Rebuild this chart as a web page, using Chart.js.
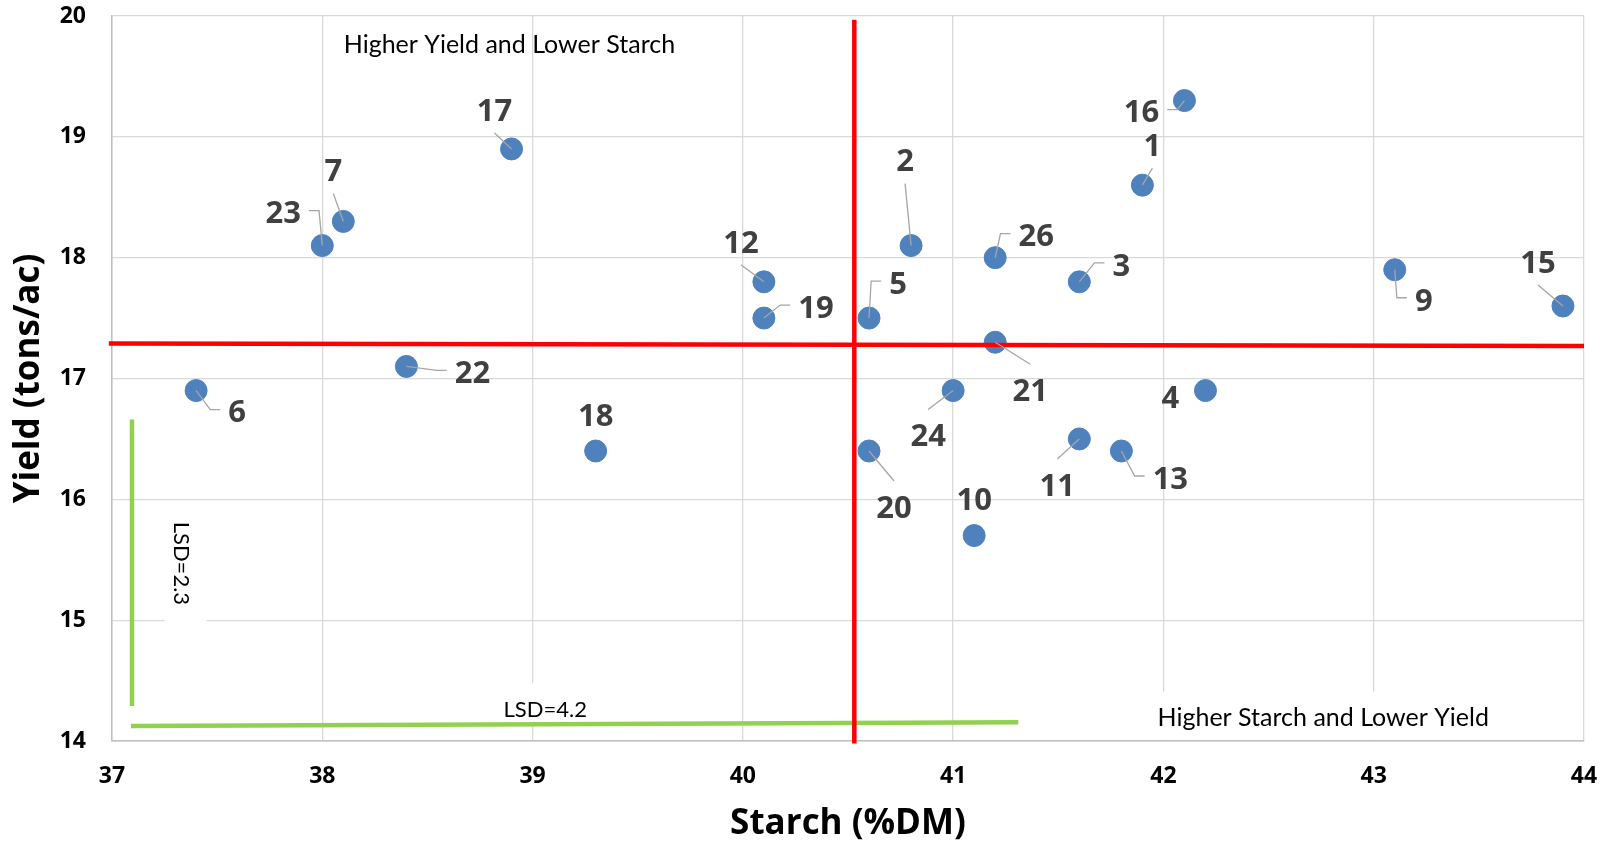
<!DOCTYPE html>
<html lang="en">
<head>
  <meta charset="UTF-8" />
  <title>Starch vs Yield</title>
  <script src="https://cdn.jsdelivr.net/npm/chart.js"></script>
  <style>
    * {
      margin: 0;
      padding: 0;
      box-sizing: border-box;
    }

    body {
      background-color: #fff;
      width: 1602px;
      height: 846px;
      overflow: hidden;
    }

    .chart-wrap {
      position: relative;
      width: 1602px;
      height: 846px;
    }
  </style>
</head>
<body>

  <div class="chart-wrap">
    <canvas id="starchChart"></canvas>
  </div>

  <script>
    // Hybrid entries
    const hybrids = ['1', '2', '3', '4', '5', '6', '7', '9', '10', '11', '12', '13',
                     '15', '16', '17', '18', '19', '20', '21', '22', '23', '24', '26'];
    const starch = [41.9, 40.8, 41.6, 42.2, 40.6, 37.4, 38.1, 43.1, 41.1, 41.6, 40.1, 41.8,
                    43.9, 42.1, 38.9, 39.3, 40.1, 40.6, 41.2, 38.4, 38.0, 41.0, 41.2];
    const yieldTons = [18.6, 18.1, 17.8, 16.9, 17.5, 16.9, 18.3, 17.9, 15.7, 16.5, 17.8, 16.4,
                       17.6, 19.3, 18.9, 16.4, 17.5, 16.4, 17.3, 17.1, 18.1, 16.9, 18.0];

    // Tick labels
    const xTicks = [37, 38, 39, 40, 41, 42, 43, 44];
    const yTicks = [14, 15, 16, 17, 18, 19, 20];

    // Red mean lines
    const meanStarchX = [40.53, 40.53];
    const meanStarchY = [19.97, 13.98];
    const meanYieldX = [36.985, 44];
    const meanYieldY = [17.29, 17.27];

    // Green LSD bars
    const lsdYieldX = [37.095, 37.095];
    const lsdYieldY = [16.66, 14.29];
    const lsdStarchX = [37.09, 41.31];
    const lsdStarchY = [14.125, 14.155];

    // label offsets in px from each point (same order as hybrids)
    const labelShift = [
      [10, -40], [-6, -85], [42, -17], [-35, 7], [29, -35], [41, 21], [-10, -51],
      [29, 30], [0, -36], [-22, 46], [-23, -40], [49, 27], [-25, -44], [-43, 11],
      [-17, -39], [0, -36], [52, -11], [25, 56], [35, 48], [66, 6], [-39, -33],
      [-25, 45], [41, -22]
    ];

    const pts = (xs, ys) => xs.map((x, i) => ({ x: x, y: ys[i] }));

    // white text boxes and quadrant / LSD notes
    const notesPlugin = {
      id: 'notes',
      beforeDatasetsDraw(chart) {
        const ctx = chart.ctx;
        const xs = chart.scales.x, ys = chart.scales.y;
        const X = v => xs.getPixelForValue(v);
        const Y = v => ys.getPixelForValue(v);
        ctx.save();
        ctx.fillStyle = '#fff';
        ctx.fillRect(X(41.89), Y(14.41), X(43.65) - X(41.89), Y(14.01) - Y(14.41));
        ctx.fillRect(X(38.82), Y(14.48), X(39.32) - X(38.82), Y(14.15) - Y(14.48));
        ctx.fillRect(X(37.25), Y(15.95), X(37.45) - X(37.25), Y(14.93) - Y(15.95));

        ctx.fillStyle = '#000';
        ctx.textAlign = 'center';
        ctx.textBaseline = 'middle';
        ctx.font = '25px Lato';
        ctx.fillText('Higher Yield and Lower Starch', X(38.89), Y(19.76));
        ctx.fillText('Higher Starch and Lower Yield', X(42.76), Y(14.19));
        ctx.font = '22px Lato';
        ctx.fillText('LSD=4.2', X(39.06), Y(14.26));
        ctx.translate(X(37.33), Y(15.47));
        ctx.rotate(Math.PI / 2);
        ctx.fillText('LSD=2.3', 0, 0);
        ctx.restore();
      }
    };

    // data labels with leader lines
    const labelPlugin = {
      id: 'pointLabels',
      afterDatasetsDraw(chart) {
        const ctx = chart.ctx;
        const meta = chart.getDatasetMeta(0);
        ctx.save();
        ctx.font = 'bold 31px "Open Sans"';
        ctx.textAlign = 'center';
        ctx.textBaseline = 'middle';
        meta.data.forEach((el, i) => {
          const px = el.x, py = el.y;
          const dx = labelShift[i][0], dy = labelShift[i][1];
          const lx = px + dx, ly = py + dy;
          const w = ctx.measureText(hybrids[i]).width;
          if (Math.hypot(dx, dy) > 40) {
            ctx.strokeStyle = '#A6A6A6';
            ctx.lineWidth = 1.3;
            ctx.beginPath();
            if (Math.abs(dx) - w / 2 > Math.abs(dy) - 20) {
              const s = Math.sign(dx);
              const sx = lx - s * (w / 2 + 8);
              const sy = ly - 2;
              ctx.moveTo(sx, sy);
              ctx.lineTo(sx - s * 10, sy);
            } else {
              ctx.moveTo(lx, dy < 0 ? ly + 23 : ly - 26);
            }
            ctx.lineTo(px, py);
            ctx.stroke();
          }
          ctx.fillStyle = '#404040';
          ctx.fillText(hybrids[i], lx, ly + 2);
        });
        ctx.restore();
      }
    };

    const lineSet = (data, color) => ({
      type: 'scatter',
      data: data,
      showLine: true,
      borderColor: color,
      borderWidth: 4.5,
      pointRadius: 0,
      clip: false,
      order: 1
    });

    new Chart(document.getElementById('starchChart').getContext('2d'), {
      type: 'scatter',
      data: {
        datasets: [
          {
            label: 'Hybrids',
            data: pts(starch, yieldTons),
            pointRadius: 11,
            pointHoverRadius: 11,
            pointBackgroundColor: '#4F81BD',
            pointBorderColor: '#4F81BD',
            pointBorderWidth: 1,
            order: 2
          },
          lineSet(pts(meanStarchX, meanStarchY), '#FF0000'),
          lineSet(pts(meanYieldX, meanYieldY), '#FF0000'),
          lineSet(pts(lsdYieldX, lsdYieldY), '#92D050'),
          lineSet(pts(lsdStarchX, lsdStarchY), '#92D050')
        ]
      },
      options: {
        responsive: true,
        maintainAspectRatio: false,
        devicePixelRatio: 1,
        animation: false,
        layout: { padding: { top: 16, right: 18, left: 0, bottom: 0 } },
        plugins: {
          legend: { display: false },
          tooltip: { enabled: false }
        },
        scales: {
          x: {
            type: 'linear',
            min: 37,
            max: 44,
            afterBuildTicks: s => { s.ticks = xTicks.map(v => ({ value: v })); },
            afterFit: s => {
              s.height = 105;
              s.paddingLeft = 0;
              s.paddingRight = 0;
            },
            ticks: {
              color: '#000',
              padding: 22,
              font: { family: 'Open Sans', size: 23, weight: 'bold' }
            },
            grid: { color: '#D9D9D9', lineWidth: 1.3, drawTicks: false },
            border: { color: '#BFBFBF', width: 1.5 },
            title: {
              display: true,
              text: 'Starch (%DM)',
              color: '#000',
              padding: { top: 0, bottom: 1 },
              font: { family: 'Open Sans', size: 35, weight: 'bold' }
            }
          },
          y: {
            type: 'linear',
            min: 14,
            max: 20,
            afterBuildTicks: s => { s.ticks = yTicks.map(v => ({ value: v })); },
            afterFit: s => {
              s.width = 112;
              s.paddingTop = 0;
              s.paddingBottom = 0;
            },
            ticks: {
              color: '#000',
              padding: 26,
              font: { family: 'Open Sans', size: 23, weight: 'bold' }
            },
            grid: { color: '#D9D9D9', lineWidth: 1.3, drawTicks: false },
            border: { color: '#BFBFBF', width: 1.5 },
            title: {
              display: true,
              text: 'Yield (tons/ac)',
              color: '#000',
              padding: { top: 8, bottom: 0 },
              font: { family: 'Open Sans', size: 35, weight: 'bold' }
            }
          }
        }
      },
      plugins: [notesPlugin, labelPlugin]
    });
  </script>
</body>
</html>
